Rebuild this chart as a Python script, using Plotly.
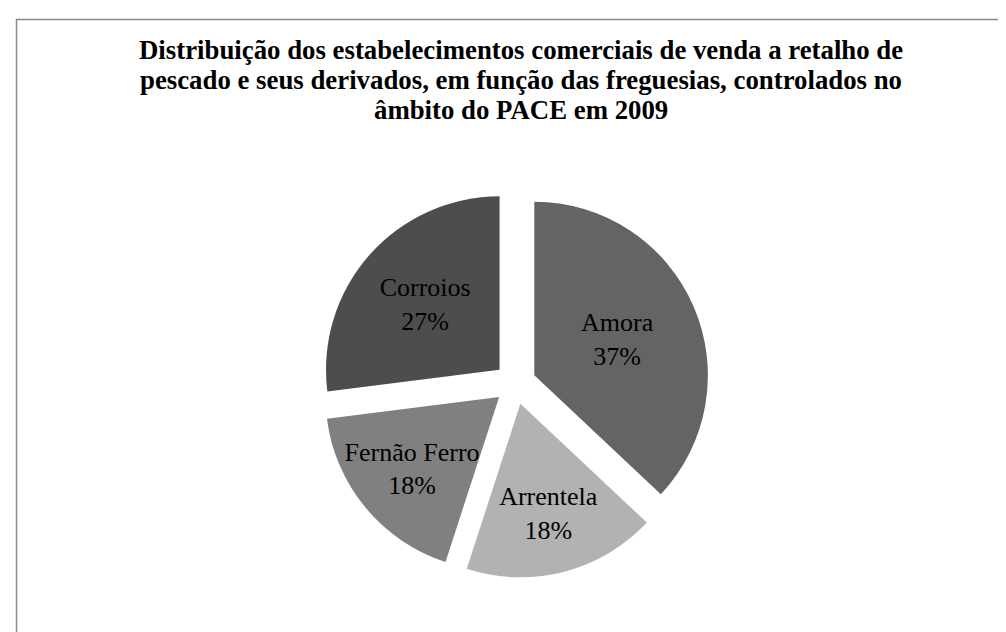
import plotly.graph_objects as go

labels = ["Amora", "Arrentela", "Fernão Ferro", "Corroios"]
values = [37, 18, 18, 27]
colors = ["#646464", "#b2b2b2", "#808080", "#4d4d4d"]
title_lines = [
    "Distribuição dos estabelecimentos comerciais de venda a retalho de",
    "pescado e seus derivados, em função das freguesias, controlados no",
    "âmbito do PACE em 2009",
]

W, H = 1006, 632
FONT = "Liberation Serif"

fig = go.Figure(go.Pie(
    labels=labels,
    values=values,
    sort=False,
    direction="clockwise",
    rotation=0,
    pull=0.12,
    marker=dict(colors=colors, line=dict(width=0)),
    texttemplate="%{label}<br>%{percent:.0%}",
    textposition="inside",
    insidetextorientation="horizontal",
    textfont=dict(family=FONT, size=26, color="#000000"),
    insidetextfont=dict(family=FONT, size=26, color="#000000"),
    domain=dict(x=[312.8 / W, 701.6 / W], y=[1 - 570.0 / H, 1 - 181.2 / H]),
    showlegend=False,
    hoverinfo="label+percent",
))

annotations = []
for i, line in enumerate(title_lines):
    annotations.append(dict(
        text="<b>" + line + "</b>",
        xref="paper", yref="paper",
        x=513 / W, xanchor="center",
        y=1 - (42 + 30 * i) / H, yanchor="middle",
        showarrow=False,
        font=dict(family=FONT, size=26.8, color="#000000"),
    ))

fig.update_layout(
    width=W, height=H,
    margin=dict(l=0, r=0, t=0, b=0),
    paper_bgcolor="white",
    plot_bgcolor="white",
    uniformtext=dict(minsize=26, mode="show"),
    annotations=annotations,
    shapes=[dict(
        type="rect", xref="paper", yref="paper",
        x0=8.5 / W, x1=1.02, y0=1 - 11.5 / H, y1=-0.02,
        line=dict(color="#8a8a8a", width=1.5),
        fillcolor="rgba(0,0,0,0)",
    )],
)

fig.write_html("out.html")
